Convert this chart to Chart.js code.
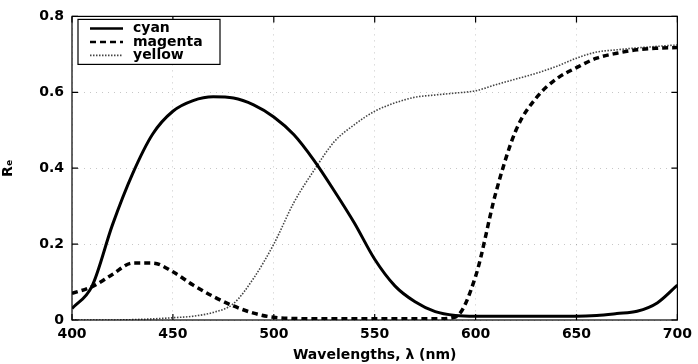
<!DOCTYPE html>
<html>
<head>
<meta charset="utf-8">
<script src="https://cdn.jsdelivr.net/npm/chart.js@4.4.0/dist/chart.umd.min.js"></script>
<style>
  html, body { margin: 0; padding: 0; background: #fff; }
  #wrap { width: 698px; height: 364px; }
</style>
</head>
<body>
<div id="wrap"><canvas id="grafico" width="698" height="364"></canvas></div>
<script>
const comprimentos = [400, 410, 420, 430, 440, 450, 460, 470, 480, 490, 500, 510, 520, 530, 540, 550,
  560, 570, 580, 590, 600, 610, 620, 630, 640, 650, 660, 670, 680, 690, 700];

const cyan = [0.03, 0.09, 0.25, 0.385, 0.49, 0.55, 0.578, 0.588, 0.585, 0.567, 0.535, 0.488, 0.42, 0.34, 0.255, 0.16,
  0.09, 0.048, 0.022, 0.012, 0.01, 0.01, 0.01, 0.01, 0.01, 0.01, 0.012, 0.017, 0.023, 0.045, 0.092];

const magenta = [0.07, 0.088, 0.12, 0.15, 0.15, 0.127, 0.092, 0.062, 0.037, 0.018, 0.007, 0.004, 0.003, 0.003, 0.003, 0.003,
  0.003, 0.003, 0.003, 0.008, 0.115, 0.335, 0.5, 0.585, 0.635, 0.665, 0.69, 0.703, 0.712, 0.716, 0.718];

const yellow = [0, 0, 0, 0.001, 0.003, 0.006, 0.01, 0.02, 0.043, 0.11, 0.2, 0.31, 0.395, 0.47, 0.515, 0.55,
  0.572, 0.587, 0.593, 0.598, 0.604, 0.62, 0.635, 0.65, 0.668, 0.69, 0.706, 0.712, 0.717, 0.721, 0.725];

const ticksX = [400, 450, 500, 550, 600, 650, 700];
const ticksY = [0, 0.2, 0.4, 0.6, 0.8];

function pontos(valores) {
  return comprimentos.map((x, i) => ({ x: x, y: valores[i] }));
}

const fonte = "'DejaVu Sans', 'Liberation Sans', sans-serif";

// ticks para dentro, caixa e legenda, como no matlab
const caixa = {
  id: 'caixa',
  afterDatasetsDraw(chart) {
    const ctx = chart.ctx;
    const a = chart.chartArea;
    const sx = chart.scales.x, sy = chart.scales.y;
    ctx.save();
    ctx.strokeStyle = '#000';
    ctx.lineWidth = 1.2;
    ctx.strokeRect(a.left, a.top, a.right - a.left, a.bottom - a.top);
    ctx.beginPath();
    ticksX.forEach(v => {
      const px = sx.getPixelForValue(v);
      ctx.moveTo(px, a.bottom); ctx.lineTo(px, a.bottom - 6);
      ctx.moveTo(px, a.top); ctx.lineTo(px, a.top + 6);
    });
    ticksY.forEach(v => {
      const py = sy.getPixelForValue(v);
      ctx.moveTo(a.left, py); ctx.lineTo(a.left + 6, py);
      ctx.moveTo(a.right, py); ctx.lineTo(a.right - 6, py);
    });
    ctx.stroke();

    // legenda
    const lx = a.left + 6, ly = a.top + 3, lw = 142, lh = 45;
    ctx.fillStyle = '#fff';
    ctx.fillRect(lx, ly, lw, lh);
    ctx.lineWidth = 1.2;
    ctx.strokeRect(lx, ly, lw, lh);
    ctx.font = 'bold 14px ' + fonte;
    ctx.textBaseline = 'middle';
    chart.data.datasets.forEach((ds, i) => {
      const y = ly + 9 + i * 13.5;
      ctx.beginPath();
      ctx.strokeStyle = ds.borderColor;
      ctx.lineWidth = Math.min(ds.borderWidth, 2.5);
      ctx.setLineDash(ds.borderDash || []);
      ctx.moveTo(lx + 12, y); ctx.lineTo(lx + 45, y);
      ctx.stroke();
      ctx.setLineDash([]);
      ctx.fillStyle = '#000';
      ctx.fillText(ds.label, lx + 55, y);
    });
    ctx.restore();
  }
};

const grafico = new Chart(document.getElementById('grafico'), {
  type: 'line',
  data: {
    datasets: [{
      label: 'cyan',
      data: pontos(cyan),
      borderColor: '#000',
      borderWidth: 3,
      pointRadius: 0,
      cubicInterpolationMode: 'monotone'
    }, {
      label: 'magenta',
      data: pontos(magenta),
      borderColor: '#000',
      borderWidth: 3.5,
      borderDash: [6, 4],
      pointRadius: 0,
      cubicInterpolationMode: 'monotone'
    }, {
      label: 'yellow',
      data: pontos(yellow),
      borderColor: '#444',
      borderWidth: 1.6,
      borderDash: [1.5, 1.5],
      pointRadius: 0,
      cubicInterpolationMode: 'monotone'
    }]
  },
  options: {
    responsive: false,
    animation: false,
    layout: { padding: { top: 15, right: 16, left: 0, bottom: 0 } },
    plugins: {
      legend: { display: false },
      tooltip: { enabled: false }
    },
    scales: {
      x: {
        type: 'linear',
        min: 400,
        max: 700,
        afterBuildTicks: (s) => { s.ticks = ticksX.map(v => ({ value: v })); },
        afterFit: (s) => { s.height = 44; },
        grid: { color: 'rgba(0,0,0,0.22)', drawTicks: false },
        border: { display: false, dash: [1, 5] },
        ticks: { color: '#000', padding: 6, font: { family: fonte, weight: 'bold', size: 14 }, maxRotation: 0 },
        title: {
          display: true,
          text: 'Wavelengths, λ (nm)',
          color: '#000',
          padding: { top: 1, bottom: 0 },
          font: { family: fonte, weight: 'bold', size: 14 }
        }
      },
      y: {
        min: 0,
        max: 0.8,
        afterBuildTicks: (s) => { s.ticks = ticksY.map(v => ({ value: v })); },
        afterFit: (s) => { s.width = 72; },
        grid: { color: 'rgba(0,0,0,0.22)', drawTicks: false },
        border: { display: false, dash: [1, 5] },
        ticks: {
          color: '#000',
          padding: 8,
          font: { family: fonte, weight: 'bold', size: 14 },
          callback: (v) => v === 0 ? '0' : v.toFixed(1)
        },
        title: {
          display: true,
          text: 'Rₑ',
          color: '#000',
          padding: { top: 0, bottom: 10 },
          font: { family: fonte, weight: 'bold', size: 14 }
        }
      }
    }
  },
  plugins: [caixa]
});
</script>
</body>
</html>
